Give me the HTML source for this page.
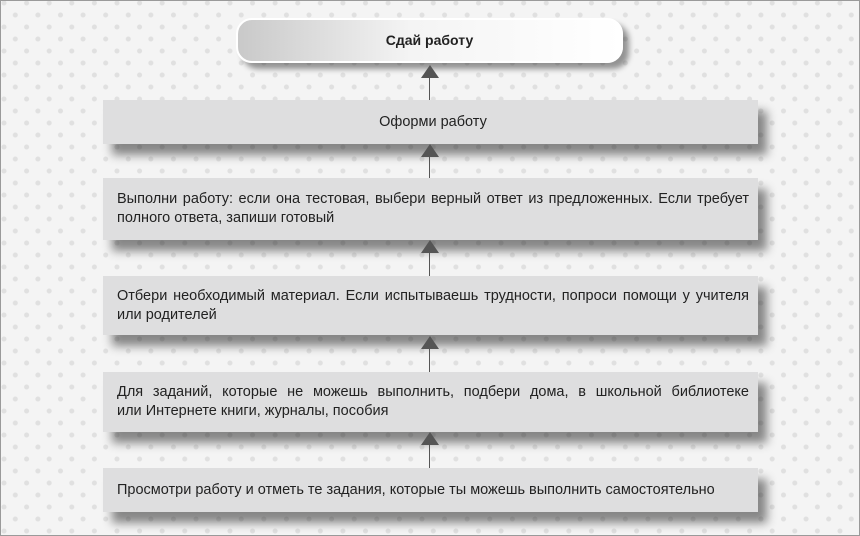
<!DOCTYPE html>
<html><head><meta charset="utf-8"><style>
html,body{margin:0;padding:0}
body{width:860px;height:536px;position:relative;overflow:hidden;box-sizing:border-box;border:1px solid #9a9a9a;
background-color:#f4f4f4;
background-image:radial-gradient(circle,#e0e0e0 2.2px,transparent 2.8px),radial-gradient(circle,#e0e0e0 2.2px,transparent 2.8px);
background-size:22.6px 24px;background-position:4px 3px,15.3px 15px;
font-family:"Liberation Sans",sans-serif;color:#222}
.b{position:absolute;left:102px;width:655px;background:#dededf;box-shadow:9px 11px 9px rgba(0,0,0,.45);box-sizing:border-box;padding:0 9px 0 14px;font-size:14.5px;line-height:19px;display:flex;flex-direction:column;justify-content:center}
.b div{white-space:nowrap}
.b .j{text-align:justify;text-align-last:justify;white-space:normal}
.pill{position:absolute;left:235px;top:17px;width:387px;height:45px;border-radius:16px;background:linear-gradient(90deg,#c9c9c9,#f4f4f4 45%,#ffffff);border:2px solid #fff;box-sizing:border-box;box-shadow:6px 6px 6px rgba(0,0,0,.4);font-weight:bold;font-size:14px;text-align:center;line-height:41px}
.ln{position:absolute;left:428px;width:1px;background:#555}
.ar{position:absolute;left:420px;width:0;height:0;border-left:9px solid transparent;border-right:9px solid transparent;border-bottom:13px solid #555}
</style></head><body>
<div class="pill">Сдай работу</div>
<div class="ln" style="top:70px;height:29px"></div><div class="ar" style="top:64px"></div>
<div class="b" style="top:99px;height:44px"><div style="text-align:center">Оформи работу</div></div>
<div class="ln" style="top:150px;height:27px"></div><div class="ar" style="top:143px"></div>
<div class="b" style="top:177px;height:62px"><div class="j">Выполни работу: если она тестовая, выбери верный ответ из предложенных. Если требует</div><div>полного ответа, запиши готовый</div></div>
<div class="ln" style="top:246px;height:29px"></div><div class="ar" style="top:239px"></div>
<div class="b" style="top:275px;height:59px"><div class="j">Отбери необходимый материал. Если испытываешь трудности, попроси помощи у учителя</div><div>или родителей</div></div>
<div class="ln" style="top:342px;height:29px"></div><div class="ar" style="top:335px"></div>
<div class="b" style="top:371px;height:60px"><div class="j">Для заданий, которые не можешь выполнить, подбери дома, в школьной библиотеке</div><div>или Интернете книги, журналы, пособия</div></div>
<div class="ln" style="top:438px;height:29px"></div><div class="ar" style="top:431px"></div>
<div class="b" style="top:467px;height:44px"><div>Просмотри работу и отметь те задания, которые ты можешь выполнить самостоятельно</div></div>
</body></html>
